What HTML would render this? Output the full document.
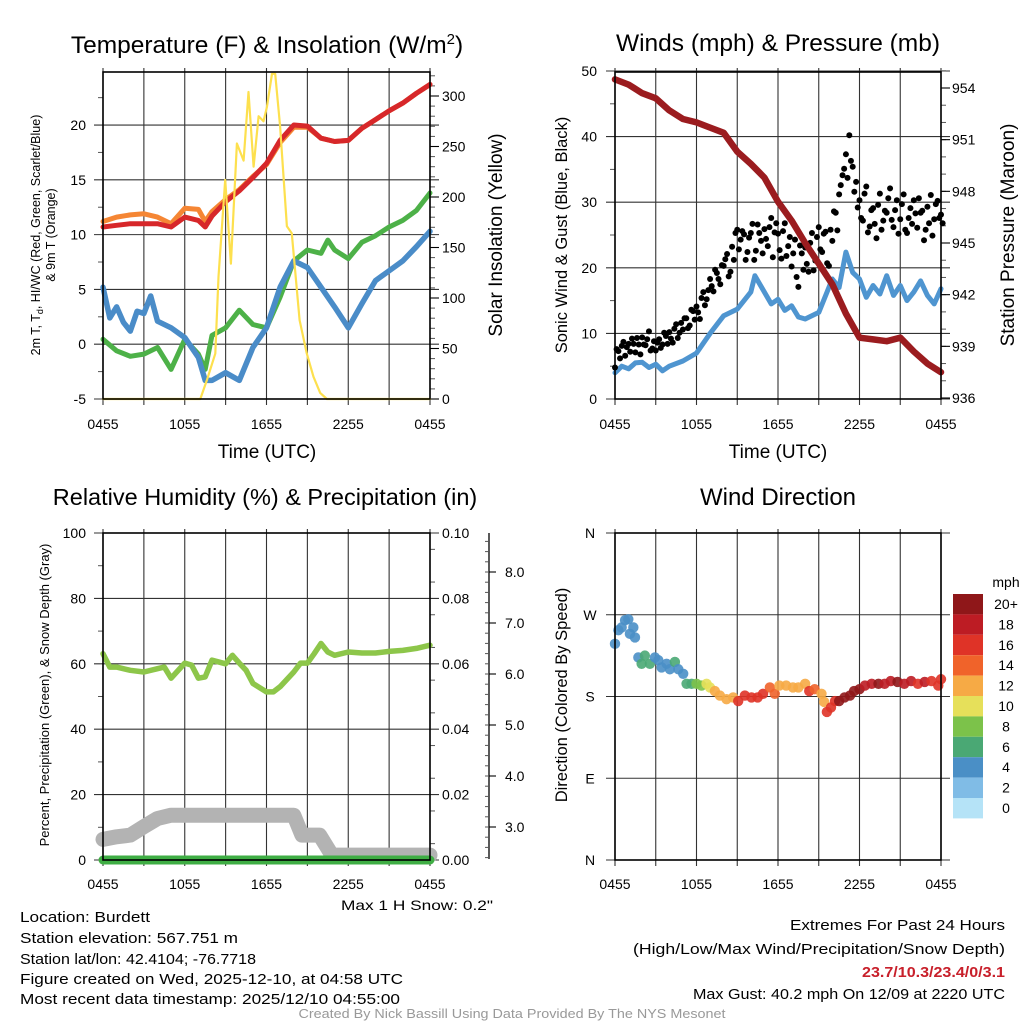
<!DOCTYPE html>
<html><head><meta charset="utf-8">
<style>
html,body{margin:0;padding:0;background:#fff;}
svg{display:block;font-family:"Liberation Sans",Arial,sans-serif;}
</style></head>
<body>
<svg id="fig" width="1024" height="1024" viewBox="0 0 1024 1024" xmlns="http://www.w3.org/2000/svg">
<rect width="1024" height="1024" fill="#fff"/>
<g id="layer"></g>
<!-- titles -->
<text x="267" y="53" font-size="24.5" text-anchor="middle">Temperature (F) &amp; Insolation (W/m<tspan font-size="15" dy="-9">2</tspan><tspan dy="9">)</tspan></text>
<text x="778" y="51" font-size="24.5" text-anchor="middle">Winds (mph) &amp; Pressure (mb)</text>
<text x="265" y="505" font-size="23.5" text-anchor="middle">Relative Humidity (%) &amp; Precipitation (in)</text>
<text x="778" y="505" font-size="24" text-anchor="middle">Wind Direction</text>
<!-- axis titles -->
<text x="267" y="458" font-size="19" text-anchor="middle">Time (UTC)</text>
<text x="778" y="458" font-size="19" text-anchor="middle">Time (UTC)</text>
<g transform="translate(40,235) rotate(-90)">
<text x="0" y="0" font-size="12.5" text-anchor="middle">2m T, T<tspan font-size="9" dy="3">d</tspan><tspan dy="-3">, HI/WC (Red, Green, Scarlet/Blue)</tspan></text>
<text x="0" y="15" font-size="12.5" text-anchor="middle">&amp; 9m T (Orange)</text>
</g>
<text transform="translate(502,235) rotate(-90)" font-size="19" text-anchor="middle">Solar Insolation (Yellow)</text>
<text transform="translate(567,235) rotate(-90)" font-size="16.5" text-anchor="middle">Sonic Wind &amp; Gust (Blue, Black)</text>
<text transform="translate(1014,235) rotate(-90)" font-size="19" text-anchor="middle">Station Pressure (Maroon)</text>
<text transform="translate(49,695) rotate(-90)" font-size="13" text-anchor="middle">Percent, Precipitation (Green), &amp; Snow Depth (Gray)</text>
<text transform="translate(567,695) rotate(-90)" font-size="16.5" text-anchor="middle">Direction (Colored By Speed)</text>
<text x="1006" y="587" font-size="14" text-anchor="middle">mph</text>
<!-- footer -->
<text x="493" y="910" font-size="14" text-anchor="end" textLength="152" lengthAdjust="spacingAndGlyphs">Max 1 H Snow: 0.2"</text>
<g font-size="15">
<text x="20" y="922" textLength="130" lengthAdjust="spacingAndGlyphs">Location: Burdett</text>
<text x="20" y="943" textLength="218" lengthAdjust="spacingAndGlyphs">Station elevation: 567.751 m</text>
<text x="20" y="964" textLength="236" lengthAdjust="spacingAndGlyphs">Station lat/lon: 42.4104; -76.7718</text>
<text x="20" y="984" textLength="383" lengthAdjust="spacingAndGlyphs">Figure created on Wed, 2025-12-10, at 04:58 UTC</text>
<text x="20" y="1004" textLength="380" lengthAdjust="spacingAndGlyphs">Most recent data timestamp: 2025/12/10 04:55:00</text>
</g>
<g font-size="15" text-anchor="end">
<text x="1005" y="930" textLength="215" lengthAdjust="spacingAndGlyphs">Extremes For Past 24 Hours</text>
<text x="1005" y="954" textLength="372" lengthAdjust="spacingAndGlyphs">(High/Low/Max Wind/Precipitation/Snow Depth)</text>
<text x="1005" y="977" fill="#c8202b" font-weight="bold" textLength="143" lengthAdjust="spacingAndGlyphs">23.7/10.3/23.4/0/3.1</text>
<text x="1005" y="999" textLength="312" lengthAdjust="spacingAndGlyphs">Max Gust: 40.2 mph On 12/09 at 2220 UTC</text>
</g>
<text x="512" y="1018" font-size="12.5" fill="#999" text-anchor="middle" textLength="427" lengthAdjust="spacingAndGlyphs">Created By Nick Bassill Using Data Provided By The NYS Mesonet</text>
</svg>
<script>
// ---------- data ----------
const xTickLabels = ["0455","1055","1655","2255","0455"];
const tempTicks = [-5,0,5,10,15,20];
const solarTicks = [0,50,100,150,200,250,300];
const windTicks = [0,10,20,30,40,50];
const presTicks = [936,939,942,945,948,951,954];
const rhTicks = [0,20,40,60,80,100];
const precipTicks = ["0.00","0.02","0.04","0.06","0.08","0.10"];
const snowTicks = ["3.0","4.0","5.0","6.0","7.0","8.0"];
const dirTickLabels = ["N","E","S","W","N"];
const cbLabels = ["20+","18","16","14","12","10","8","6","4","2","0"];

const tHours = [0,1,2,3,4,5,6,7,7.5,8,9,10,11,12,13,14,15,16,17,18,19,20,21,22,23,24];
const temp2m = [10.7,10.85,11,11,11,10.7,11.6,11.3,10.7,11.7,13,14,15.2,16.5,18.6,20,19.9,18.8,18.5,18.6,19.7,20.5,21.3,22,22.9,23.7];
const temp9m = [11.2,11.6,11.8,11.9,11.6,11,12.4,12.3,11.2,12.1,13.2,14.1,15.3,16.4,18.4,19.8,19.8,18.8,18.5,18.6,19.7,20.5,21.3,22,22.9,23.7];
const dHours = [0,1,2,3,4,5,6,7,7.5,8,9,10,11,12,13,14,15,16,16.5,17,18,19,20,21,22,23,24];
const dewpt = [0.45,-0.6,-1.1,-0.9,-0.3,-2.3,0.45,-0.9,-2.3,0.8,1.5,3.1,1.8,1.5,4.3,7.6,8.6,8.3,9.5,8.6,7.8,9.3,9.9,10.7,11.3,12.2,13.8];
const wcHours = [0,0.5,1,1.5,2,2.5,3,3.5,4,5,6,7,7.5,8,9,10,11,12,13,14,15,16,17,18,19,20,21,22,23,24];
const windChill = [5.2,2.4,3.4,2.0,1.2,3.0,2.8,4.4,2.1,1.5,0.6,-1.2,-3.3,-3.3,-2.6,-3.3,-0.3,1.5,5.2,7.6,7,5.2,3.4,1.5,3.7,5.8,6.7,7.6,8.9,10.3];
const sHours = [0,7.14,7.63,8.24,8.48,8.97,9.39,9.83,10.32,10.68,11.05,11.42,11.78,12.03,12.4,12.64,13.0,13.5,13.86,14.43,14.96,15.45,15.94,16.43,24];
const solar = [0,0,19,45,121,217,134,253,236,304,230,280,275,289,322,322,270,171,164,78,45,22,6,0,0];

const pHours = [0,1,2,3,4,5,6,7,8,9,10,11,12,13,14,15,16,17,18,19,20,21,22,23,24];
const pressure = [954.5,954.2,953.7,953.4,952.7,952.2,952.0,951.7,951.4,950.3,949.6,948.8,947.4,946.3,945,943.8,942.6,940.9,939.5,939.4,939.3,939.5,938.7,938,937.5];
const wHours = [0,0.5,1,1.5,2,2.5,3,3.5,4,5,6,7,8,9,10,10.3,11,11.5,12,12.5,13,13.5,14,15,16,16.5,17,17.5,18,18.5,19,19.5,20,20.5,21,21.5,22,22.5,23,23.5,24];
const windSpd = [4,5,4.6,5.5,5.6,4.8,5.3,4.3,5,5.8,7,10,12.7,13.7,16.3,18.8,16.3,14.5,15.2,13.5,14.2,12.5,12.2,13.2,18.3,17,22.4,19.3,18.3,15.5,17.3,16,18.8,15.8,17.3,15,16.3,18,15.8,14.5,16.8];
const gust = [4.8,7.3,8.1,6.6, 8.4,9.2,7.1,8.3, 9.4,8.2,10.3,7.7, 7.4,9.1,8.3,9.6, 10.2,8.6,11.4,10.1, 10.6,12.3,11.2,13.4, 14.1,12.2,16.3,15.2, 18.3,16.4,19.2,17.5, 20.3,22.1,19.4,21.2, 25.8,24.3,25.1,22.4, 25.3,21.2,26.6,24.1, 25.9,23.3,27.6,25.4, 25.2,21.4,26.8,23.3, 20.2,24.3,17.1,22.2, 23.1,19.4,25.3,21.1, 26.2,22.4,25.5,20.3, 24.1,28.4,31.2,34.1, 37.3,40.2,35.4,33.1, 30.3,27.2,32.4,26.3, 29.1,24.5,31.3,27.2, 28.4,32.1,26.2,30.3, 27.4,31.2,25.3,29.1, 30.3,26.1,28.4,24.2, 29.3,31.1,27.4,30.2, 28.1];
const gust2 = [7.6,6.2,8.7,7.9, 7.2,8.4,9.3,6.8, 8.3,9.1,7.4,8.8, 8.6,7.8,10.1,8.4, 9.2,10.7,9.3,11.6, 12.3,10.8,13.6,12.1, 13.2,15.4,14.3,16.6, 17.2,19.7,18.3,20.4, 21.3,18.7,23.2,25.3, 22.8,25.6,21.2,24.6, 26.7,22.6,25.3,22.2, 24.4,26.2,21.6,26.8, 22.7,25.6,21.8,24.7, 22.2,18.6,23.4,19.7, 20.6,23.8,19.6,24.7, 22.8,25.2,20.7,25.8, 28.6,25.7,32.6,35.1, 33.7,36.3,31.6,29.2, 27.6,31.3,25.4,28.8, 26.7,29.6,25.8,28.7, 30.6,27.3,28.8,25.2, 29.7,25.8,27.6,26.7, 28.3,30.6,28.7,25.8, 26.8,24.9,29.7,27.6, 26.8];

const rhHours = [0,0.5,1,2,3,4,4.5,5,6,6.5,7,7.5,8,9,9.5,10,10.5,11,12,12.5,13,14,14.5,15,15.5,16,16.5,17,18,19,20,21,22,23,24];
const rh = [63.1,59,59,58,57.5,58.5,59,55.6,60.2,59.6,55.6,56,61.1,60,62.6,60.2,58,54,51.4,51.4,53,57.5,60.2,60.2,63.1,66.2,63.6,62.6,63.6,63.3,63.3,63.8,64.1,64.7,65.7];
const snowHours = [0,1,2,3,4,5,14,14.6,15.9,16.8,24];
const snowDepth = [6.3,7.1,7.6,10.2,12.7,13.7,13.7,7.6,7.6,1.5,1.5];
const precipHours = [0,24];
const precip = [0,0];

const dirHours = [0,0.25,0.49,0.74,0.98,1.1,1.35,1.47,1.72,1.96,2.2,2.57,2.94,3.19,3.43,3.8,4.04,4.41,4.66,5.02,5.27,5.64,6.0,6.37,6.74,6.99,7.35,7.72,8.21,8.7,9.07,9.56,10.05,10.5,10.9,11.4,11.76,12.1,12.6,13.1,13.5,14.0,14.3,14.7,15.2,15.4,15.6,15.9,16.2,16.5,16.9,17.3,17.6,18.0,18.4,18.9,19.4,19.85,20.3,20.8,21.3,21.8,22.3,22.8,23.3,23.8,24];
const direction = [238,253,256,264,265,249,256,245,223,216,225,216,223,220,212,216,210,218,210,205,194,194,194,192,194,190,186,181,177,179,175,181,179,179,183,190,183,192,192,190,190,194,186,188,183,174,163,168,175,175,179,181,186,188,192,194,194,194,197,196,194,197,194,196,197,192,199];
const dirSpeed = [4,4,4,4,4,4,4,4,4,6,6,6,4,4,4,4,4,6,4,4,6,6,8,8,10,10,12,12,12,12,17,17,16,16,17,15,15,13,12,13,12,12,17,15,12,13,16,17,16,20,21,21,21,20,18,18,20,18,18,20,18,18,17,18,17,16,17];
const binColors = ["#b5e3f7","#80bce6","#4a8fc6","#4aa874","#7cc24a","#e6e05a","#f6aa45","#f0632a","#df3327","#bd1c24","#8f1719"];

// ---------- helpers ----------
const NS = "http://www.w3.org/2000/svg";
const layer = document.getElementById("layer");
function mk(tag, attrs, parent) {
  const el = document.createElementNS(NS, tag);
  for (const k in attrs) el.setAttribute(k, attrs[k]);
  (parent || layer).appendChild(el);
  return el;
}
function lin(d0, d1, r0, r1) { return v => r0 + (v - d0) / (d1 - d0) * (r1 - r0); }
function pathFrom(xs, ys, fx, fy) {
  return xs.map((h, i) => (i ? "L" : "M") + fx(h).toFixed(1) + "," + fy(ys[i]).toFixed(1)).join("");
}

const P = {
  tl: {x0:103, x1:430, y0:72, y1:399},
  tr: {x0:615, x1:941, y0:72, y1:399},
  bl: {x0:103, x1:430, y0:533, y1:860},
  br: {x0:615, x1:941, y0:533, y1:860}
};
const xTL = lin(0, 24, P.tl.x0, P.tl.x1);
const xTR = lin(0, 24, P.tr.x0, P.tr.x1);
const xBL = lin(0, 24, P.bl.x0, P.bl.x1);
const xBR = lin(0, 24, P.br.x0, P.br.x1);
const yTemp = lin(-5, 24.84, 399, 72);
const ySolar = lin(0, 300, 399, 96);
const yWind = lin(0, 50, 399, 71);
const yPres = lin(936, 954, 398, 88);
const yRH = lin(0, 100, 860, 533);
const yPrecip = lin(0, 0.1, 860, 533);
const ySnow = lin(3, 8, 827, 572);
const yDir = lin(0, 360, 860, 533);

function vgrid(p, fx) {
  for (let h = 0; h <= 24; h += 3) {
    const el = mk("line", {x1:fx(h), x2:fx(h), y1:p.y0 - 4, y2:p.y1 + 6, stroke:"#333", "stroke-width":1.1});
    
    
  }
}
function hgrid(p, ys) {
  ys.forEach(y => {
    const el = mk("line", {x1:p.x0 - 9, x2:p.x1 + 9, y1:y, y2:y, stroke:"#333", "stroke-width":1.1});
    
    
  });
}
function frame(p) {
  const el = mk("rect", {x:p.x0, y:p.y0, width:p.x1 - p.x0, height:p.y1 - p.y0, fill:"none", stroke:"#000", "stroke-width":1.6});
  
  
}
function xLabels(p, fx, y) {
  xTickLabels.forEach((t, i) => {
    const el = mk("text", {x:fx(i * 6), y:y, "font-size":14, "text-anchor":"middle"});
    el.textContent = t;
    
    
  });
}
function yLabels(vals, fy, x, anchor, name, labels) {
  vals.forEach((v, i) => {
    const el = mk("text", {x:x, y:fy(v) + 5, "font-size":14, "text-anchor":anchor});
    el.textContent = labels ? labels[i] : v;
    
    
  });
}
function minorTicks(x, from, to, step, fy, len) {
  for (let v = from; v <= to + 1e-9; v += step) {
    const el = mk("line", {x1:x, x2:x + len, y1:fy(v), y2:fy(v), stroke:"#555", "stroke-width":1});
    
    
  }
}
function line(xs, ys, fx, fy, color, w, name) {
  const el = mk("path", {d:pathFrom(xs, ys, fx, fy), fill:"none", stroke:color, "stroke-width":w, "stroke-linejoin":"round", "stroke-linecap":"round"});
  
  
  return el;
}

// ---------- panel 1 ----------
vgrid(P.tl, xTL);
hgrid(P.tl, tempTicks.map(yTemp));
minorTicks(P.tl.x0 - 5, -2.5, 22.5, 5, yTemp, 5);
minorTicks(P.tl.x1, 0, 320, 10, ySolar, 5);
solarTicks.forEach(v => {
  const el = mk("line", {x1:P.tl.x1, x2:P.tl.x1 + 9, y1:ySolar(v), y2:ySolar(v), stroke:"#000", "stroke-width":1.1});
  
  
});
line(tHours, temp9m, xTL, yTemp, "#f58634", 5, "temp-9m-line");
line(tHours, temp2m, xTL, yTemp, "#d7272a", 5, "temp-2m-line");
line(dHours, dewpt, xTL, yTemp, "#4db148", 5, "dewpoint-line");
line(wcHours, windChill, xTL, yTemp, "#4a8cc8", 5.5, "wind-chill-line");
line(sHours, solar, xTL, ySolar, "#fde04e", 2.2, "solar-insolation-line");
frame(P.tl);
xLabels(P.tl, xTL, 429);
yLabels(tempTicks, yTemp, 86, "end", "temp-y-tick-label");
yLabels(solarTicks, ySolar, 442, "start", "solar-y-tick-label");

// ---------- panel 2 ----------
vgrid(P.tr, xTR);
hgrid(P.tr, windTicks.map(yWind));
minorTicks(P.tr.x0 - 5, 5, 45, 10, yWind, 5);
minorTicks(P.tr.x1, 936, 955, 1, yPres, 5);
presTicks.forEach(v => {
  const el = mk("line", {x1:P.tr.x1, x2:P.tr.x1 + 9, y1:yPres(v), y2:yPres(v), stroke:"#000", "stroke-width":1.1});
  
  
});
line(wHours, windSpd, xTR, yWind, "#4f95d0", 5, "sonic-wind-line");
gust.forEach((g, i) => {
  const el = mk("circle", {cx:xTR(i * 0.25), cy:yWind(g), r:3, fill:"#000"});
  
  
});
gust2.forEach((g, i) => {
  const el = mk("circle", {cx:xTR(i * 0.25 + 0.12), cy:yWind(g), r:3, fill:"#000"});
  
  
});
line(pHours, pressure, xTR, yPres, "#9b1c1f", 6.5, "pressure-line");
frame(P.tr);
xLabels(P.tr, xTR, 429);
yLabels(windTicks, yWind, 597, "end", "wind-y-tick-label");
yLabels(presTicks, yPres, 952, "start", "pressure-y-tick-label");

// ---------- panel 3 ----------
vgrid(P.bl, xBL);
hgrid(P.bl, rhTicks.map(yRH));
minorTicks(P.bl.x0 - 5, 10, 90, 20, yRH, 5);
minorTicks(P.bl.x1, 0.005, 0.095, 0.01, yPrecip, 5);
line(rhHours, rh, xBL, yRH, "#8dc64a", 5.5, "relative-humidity-line");
line(snowHours, snowDepth, xBL, yRH, "#b3b3b3", 15, "snow-depth-line");
line(precipHours, precip, xBL, yPrecip, "#3fae44", 9, "precipitation-line");
frame(P.bl);
xLabels(P.bl, xBL, 889);
yLabels(rhTicks, yRH, 86, "end", "rh-y-tick-label");
yLabels([0,0.02,0.04,0.06,0.08,0.1], yPrecip, 442, "start", "precip-y-tick-label", precipTicks);
{
  const el = mk("line", {x1:489, x2:489, y1:533, y2:859, stroke:"#000", "stroke-width":1.3});
  
  
}
[3,4,5,6,7,8].forEach(v => {
  const el = mk("line", {x1:489, x2:496, y1:ySnow(v), y2:ySnow(v), stroke:"#000", "stroke-width":1.1});
  
  
});
minorTicks(485, 2.4, 8.7, 0.2, ySnow, 4);
yLabels([3,4,5,6,7,8], ySnow, 505, "start", "snow-y-tick-label", snowTicks);

// ---------- panel 4 ----------
vgrid(P.br, xBR);
hgrid(P.br, [0,90,180,270,360].map(yDir));
function binOf(s) { return Math.min(10, Math.floor(s / 2)); }
direction.forEach((d, i) => {
  const el = mk("circle", {cx:xBR(dirHours[i]), cy:yDir(d), r:5.2, fill:binColors[binOf(dirSpeed[i])], "fill-opacity":0.9});
  
  
});
frame(P.br);
xLabels(P.br, xBR, 889);
yLabels([0,90,180,270,360], yDir, 590, "middle", "direction-y-tick-label", dirTickLabels);
cbLabels.forEach((lab, i) => {
  const top = 594 + i * 20.4;
  const r = mk("rect", {x:953, y:top, width:30, height:20.4, fill:binColors[10 - i]});
  
  
  const t = mk("text", {x:1006, y:top + 15, "font-size":14, "text-anchor":"middle"});
  t.textContent = lab;
  
  
});
</script>
</body></html>
